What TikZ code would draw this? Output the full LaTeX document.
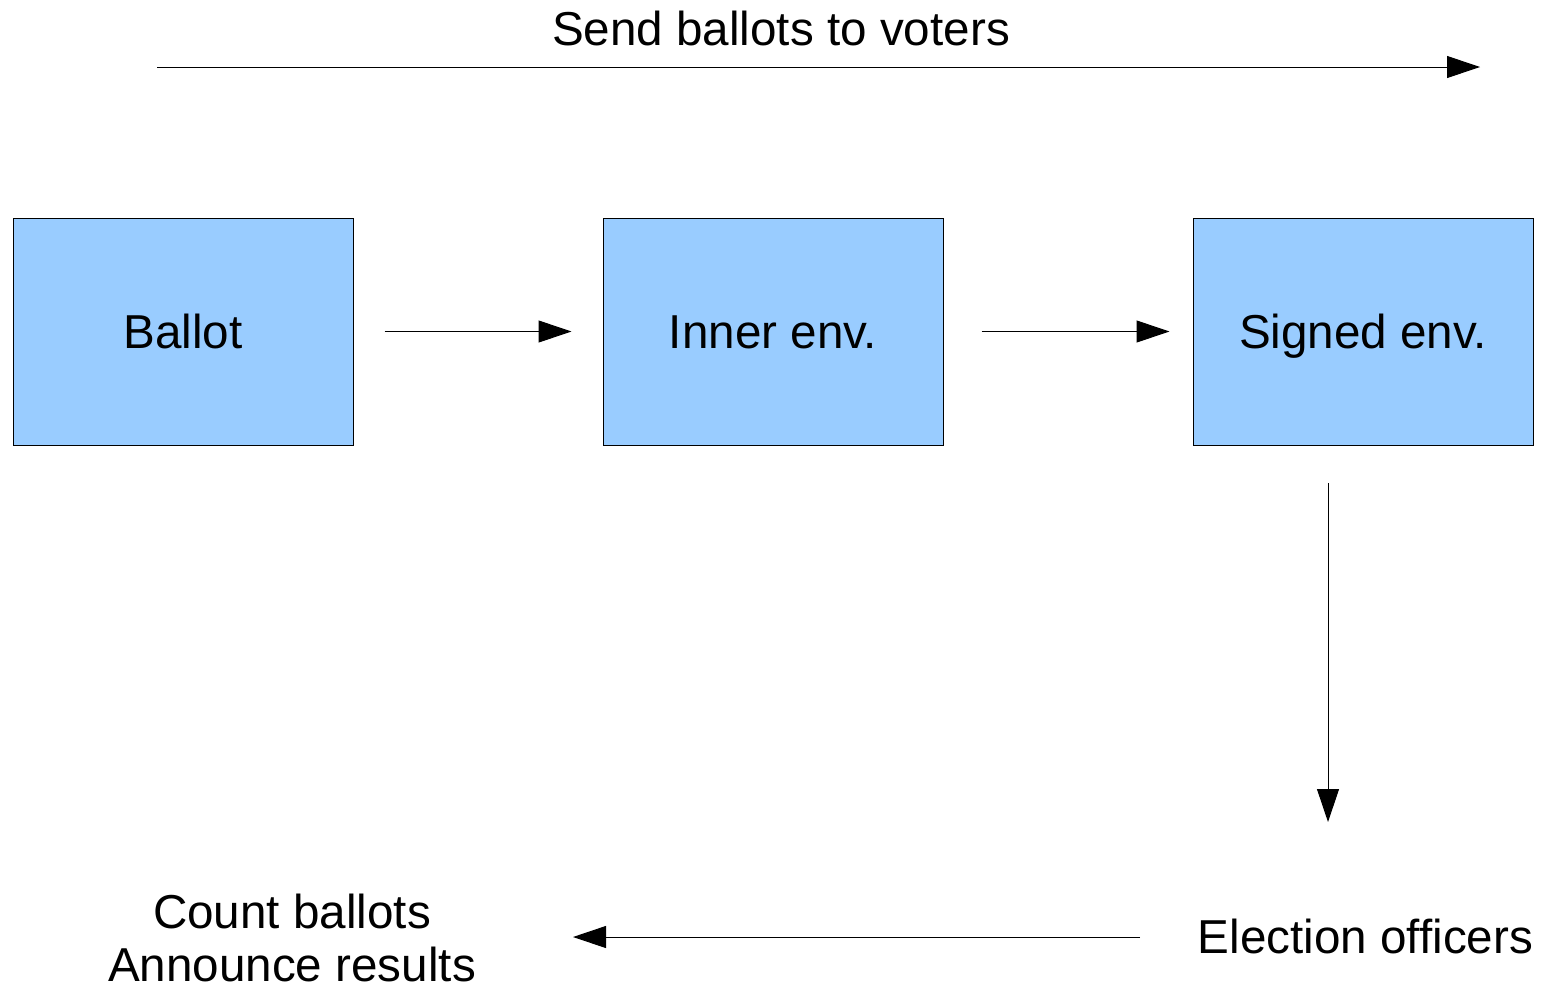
\documentclass[tikz,border=0pt]{standalone}
\usepackage{fontspec}
\setmainfont{Liberation Sans}
\usetikzlibrary{arrows.meta}
\definecolor{boxblue}{HTML}{99CCFF}
\tikzset{
  stage/.style={draw=black, line width=1pt, fill=boxblue, minimum width=340pt,
    minimum height=227pt, inner sep=0pt, text height=38pt, text depth=5pt},
  flow/.style={line width=1pt, -{Triangle[length=33pt,width=22pt]}},
  label/.style={inner sep=0pt},
}
\begin{document}
\begin{tikzpicture}[x=1pt, y=-1pt, font=\fontsize{47.6}{53}\selectfont]
  \useasboundingbox (0,0) rectangle (1541,988);

  % top arrow with its caption
  \coordinate (topL) at (157,67);
  \coordinate (topR) at (1480,67);
  \node[label, anchor=base] (send) at (781,45) {Send ballots to voters};
  \draw[flow] (topL) -- (topR);

  % the three envelope stages
  \node[stage] (ballot) at (183,331.5) {Ballot};
  \node[stage] (inner)  at (773,331.5) {Inner env.};
  \node[stage] (signed) at (1363,331.5) {Signed env.};

  \draw[flow] ([xshift=31pt]ballot.east) -- ([xshift=-31pt]inner.west);
  \draw[flow] ([xshift=38pt]inner.east) -- ([xshift=-23pt]signed.west);

  % bottom row
  \node[label, anchor=base] (officers) at (1365.5,953) {Election officers};
  \node[label, align=center] (count) at (292,938) {Count ballots\\Announce results};

  \coordinate (downT) at (1328,483);
  \coordinate (downB) at (1328,822);
  \draw[flow] (downT) -- (downB);

  \coordinate (backR) at (1140,937);
  \coordinate (backL) at (573,937);
  \draw[flow] (backR) -- (backL);
\end{tikzpicture}
\end{document}
